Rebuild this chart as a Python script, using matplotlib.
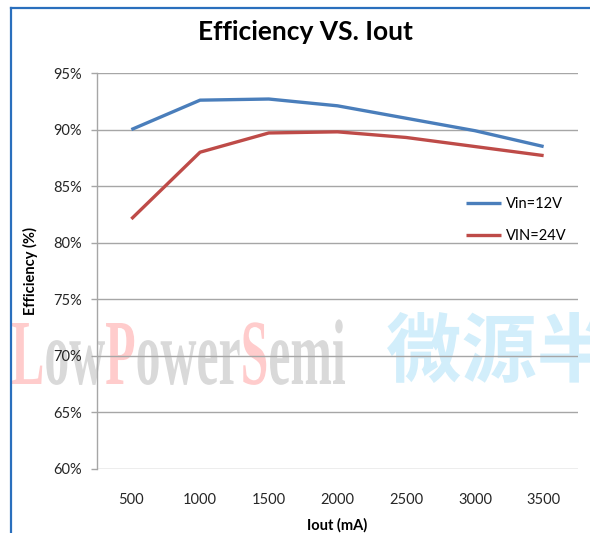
import matplotlib
matplotlib.use("Agg")
import matplotlib.pyplot as plt
import matplotlib.transforms as mtransforms
from matplotlib.textpath import TextPath, TextToPath
from matplotlib.patches import PathPatch
from matplotlib.font_manager import FontProperties
from matplotlib.lines import Line2D
from matplotlib.ticker import FuncFormatter

# ---- data ----
iout_labels = ["500", "1000", "1500", "2000", "2500", "3000", "3500"]
eff_12v = [90.0, 92.6, 92.7, 92.1, 91.0, 89.9, 88.5]
eff_24v = [82.1, 88.0, 89.7, 89.8, 89.3, 88.5, 87.7]
series_names = ["Vin=12V", "VIN=24V"]
y_ticks = [60, 65, 70, 75, 80, 85, 90, 95]

W, H = 590, 533
plt.rcParams['font.family'] = ['Lato', 'DejaVu Sans']

fig = plt.figure(figsize=(W / 100, H / 100), dpi=100)
ax = fig.add_axes([97 / W, 1 - 469 / H, (578 - 97) / W, (469 - 73) / H])
ax.set_facecolor('none')

x = list(range(len(iout_labels)))
ax.plot(x, eff_12v, color='#4a7ebb', lw=2.4, label=series_names[0], solid_capstyle='butt')
ax.plot(x, eff_24v, color='#be4b48', lw=2.4, label=series_names[1], solid_capstyle='butt')

ax.set_xlim(-0.5, len(iout_labels) - 0.5)
ax.set_ylim(60, 95)
ax.set_yticks(y_ticks)
ax.yaxis.set_major_formatter(FuncFormatter(lambda v, p: f"{v:.0f}%"))
ax.set_xticks(x)
ax.set_xticklabels(iout_labels)
ax.grid(axis='y', color='#a6a6a6', lw=1.0)
ax.set_axisbelow(True)
for s in ['top', 'right', 'bottom']:
    ax.spines[s].set_visible(False)
ax.spines['left'].set_color('#a6a6a6')
ax.spines['left'].set_linewidth(1.0)
ax.tick_params(axis='y', length=4.3, width=1.0, color='#a6a6a6', pad=6.5,
               labelsize=10.5, labelcolor='#262626')
ax.tick_params(axis='x', length=0, pad=17, labelsize=10.5, labelcolor='#262626')

ax.set_xlabel("Iout (mA)", fontsize=10.5, fontweight='bold', labelpad=8)
ax.set_ylabel("Efficiency (%)", fontsize=10.5, fontweight='bold', labelpad=11)

fig.text(305 / W, 1 - 32 / H, "Efficiency VS. Iout", ha='center', va='center',
         fontsize=19, fontweight='bold', color='black')

ax.legend(loc='center left', bbox_to_anchor=(459 / W, 1 - 220 / H),
          bbox_transform=fig.transFigure, frameon=False, borderpad=0,
          handlelength=2.4, handletextpad=0.3, labelspacing=1.2, fontsize=10.5)

# ---- watermark ----
ttp = TextToPath()
fp = FontProperties(family='Liberation Serif', weight='bold')
word = "LowPowerSemi"
segs = [("L", '#ffcccc'), ("ow", '#d9d9d9'), ("P", '#ffcccc'), ("ower", '#d9d9d9'),
        ("S", '#ffcccc'), ("emi", '#d9d9d9')]
cap_h = TextPath((0, 0), "L", prop=fp).get_extents().height
full_ext = TextPath((0, 0), word, prop=fp).get_extents()
sx = (345 - 12) / full_ext.width
sy = 61 / cap_h
prefix = ""
for s, c in segs:
    off = ttp.get_text_width_height_descent(prefix, fp, ismath=False)[0] if prefix else 0
    p = TextPath((off - full_ext.x0, 0), s, prop=fp)
    tr = mtransforms.Affine2D().scale(sx, sy).translate(12, H - 384)
    fig.add_artist(PathPatch(p, transform=tr, facecolor=c, edgecolor='none', zorder=-5))
    prefix += s

fpc = FontProperties(family='Noto Sans CJK SC', weight='bold')
cn = "微源半"
pc = TextPath((0, 0), cn, prop=fpc)
ec = pc.get_extents()
sc = 71 / ec.height
trc = mtransforms.Affine2D().translate(-ec.x0, -ec.y0).scale(sc, sc).translate(387, H - 383)
fig.add_artist(PathPatch(pc, transform=trc, facecolor='#d2eefb', edgecolor='none', zorder=-5))

# ---- chart frame border ----
fig.add_artist(Line2D([11, 11], [0, H - 7.5], transform=mtransforms.IdentityTransform(),
                      color='#2a6fbd', lw=1.6))
fig.add_artist(Line2D([11, W], [H - 7.5, H - 7.5], transform=mtransforms.IdentityTransform(),
                      color='#2a6fbd', lw=1.6))

fig.savefig("out.png", dpi=100)
